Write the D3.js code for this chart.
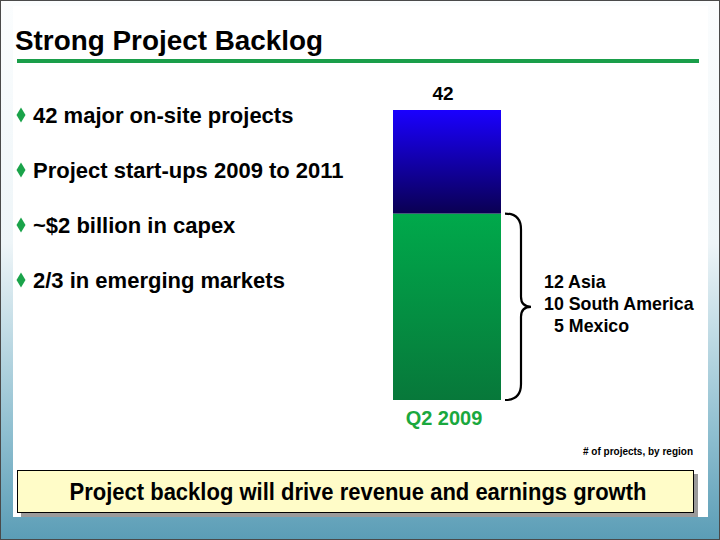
<!DOCTYPE html>
<html>
<head>
<meta charset="utf-8">
<script src="https://cdn.jsdelivr.net/npm/d3@7"></script>
<style>
  body { margin: 0; background: #fff; }
  svg { display: block; font-family: "Liberation Sans", Arial, sans-serif; }
</style>
</head>
<body>
<svg id="chart" width="720" height="540"></svg>
<script>
// data
const quarters = ['Q2 2009'];
const regionNames = ['Asia', 'South America', 'Mexico'];
const regionCounts = [12, 10, 5];
const otherCounts = [15];
const bullets = [
  '42 major on-site projects',
  'Project start-ups 2009 to 2011',
  '~$2 billion in capex',
  '2/3 in emerging markets'
];

const svg = d3.select('#chart');
const W = 720, H = 540;

const defs = svg.append('defs');
const bg = defs.append('linearGradient').attr('id', 'bg')
  .attr('x1', 0).attr('y1', 0).attr('x2', 0).attr('y2', 1);
bg.append('stop').attr('offset', '0%').attr('stop-color', '#fbfdfe');
bg.append('stop').attr('offset', '45%').attr('stop-color', '#eef5f8');
bg.append('stop').attr('offset', '80%').attr('stop-color', '#8fbfd0');
bg.append('stop').attr('offset', '100%').attr('stop-color', '#5b9db6');

const blueGrad = defs.append('linearGradient').attr('id', 'blueGrad')
  .attr('x1', 0).attr('y1', 0).attr('x2', 0).attr('y2', 1);
blueGrad.append('stop').attr('offset', '0%').attr('stop-color', '#1a00ff');
blueGrad.append('stop').attr('offset', '100%').attr('stop-color', '#0a0052');

const greenGrad = defs.append('linearGradient').attr('id', 'greenGrad')
  .attr('x1', 0).attr('y1', 0).attr('x2', 0).attr('y2', 1);
greenGrad.append('stop').attr('offset', '0%').attr('stop-color', '#00a94b');
greenGrad.append('stop').attr('offset', '100%').attr('stop-color', '#07783a');

// slide background and panel
svg.append('rect').attr('width', W).attr('height', H).attr('fill', 'url(#bg)');
svg.append('rect').attr('x', 13).attr('y', 6).attr('width', 695).attr('height', 511)
  .attr('fill', '#ffffff');
svg.append('rect').attr('x', 0.5).attr('y', 0.5).attr('width', W - 1).attr('height', H - 1)
  .attr('fill', 'none').attr('stroke', '#4a4a4a').attr('stroke-width', 1);

// title
svg.append('text').attr('x', 15).attr('y', 50)
  .attr('font-size', 27).attr('font-weight', 'bold').attr('fill', '#000')
  .attr('textLength', 308).attr('lengthAdjust', 'spacingAndGlyphs')
  .text('Strong Project Backlog');
svg.append('line').attr('x1', 17).attr('x2', 699).attr('y1', 61).attr('y2', 61)
  .attr('stroke', '#1a9e4a').attr('stroke-width', 4);

// bullets
const bulletY = d3.scalePoint().domain(d3.range(bullets.length)).range([115, 280]);
const bl = svg.append('g').selectAll('g').data(bullets).join('g')
  .attr('transform', (d, i) => `translate(0,${bulletY(i)})`);
bl.append('path').attr('d', 'M21,-7.5 L25.5,0 L21,7.5 L16.5,0 Z').attr('fill', '#1aa34a');
bl.append('text').attr('x', 33).attr('dy', '0.36em')
  .attr('font-size', 22).attr('font-weight', 'bold').attr('fill', '#000')
  .text(d => d);

// stacked bar
const stackData = quarters.map((q, i) => ({
  quarter: q,
  regions: d3.sum(regionCounts),
  other: otherCounts[i]
}));
const series = d3.stack().keys(['regions', 'other'])(stackData);
const total = d3.max(series[series.length - 1], d => d[1]);

const x = d3.scaleBand().domain(quarters).range([393, 501]).padding(0);
const y = d3.scaleLinear().domain([0, total]).range([400, 110]);
const fills = { regions: 'url(#greenGrad)', other: 'url(#blueGrad)' };

svg.append('g').selectAll('g').data(series).join('g')
  .attr('fill', d => fills[d.key])
  .selectAll('rect').data(d => d).join('rect')
  .attr('x', d => x(d.data.quarter))
  .attr('width', x.bandwidth())
  .attr('y', d => y(d[1]))
  .attr('height', d => y(d[0]) - y(d[1]));

// total label
svg.append('g').selectAll('text').data(stackData).join('text')
  .attr('x', d => x(d.quarter) + x.bandwidth() / 2 - 4)
  .attr('y', d => y(d.regions + d.other) - 17)
  .attr('text-anchor', 'middle').attr('dy', '0.36em')
  .attr('font-size', 19).attr('font-weight', 'bold').attr('fill', '#000')
  .text(d => d.regions + d.other);

// category label
svg.append('g').selectAll('text').data(quarters).join('text')
  .attr('x', d => x(d) + x.bandwidth() / 2 - 3)
  .attr('y', 418).attr('dy', '0.36em')
  .attr('text-anchor', 'middle')
  .attr('font-size', 20).attr('font-weight', 'bold').attr('fill', '#1aa83e')
  .text(d => d);

// brace around the regional segment
const seg = series[0][0];
const bTop = y(seg[1]), bBot = y(seg[0]);
const bMid = (bTop + bBot) / 2;
const bx0 = x.range()[1] + 4, bx1 = bx0 + 16, tip = bx1 + 10;
const brace = d3.path();
brace.moveTo(bx0, bTop);
brace.quadraticCurveTo(bx1, bTop, bx1, bTop + 16);
brace.lineTo(bx1, bMid - 10);
brace.quadraticCurveTo(bx1, bMid, tip, bMid);
brace.quadraticCurveTo(bx1, bMid, bx1, bMid + 10);
brace.lineTo(bx1, bBot - 16);
brace.quadraticCurveTo(bx1, bBot, bx0, bBot);
svg.append('path').attr('d', brace.toString())
  .attr('fill', 'none').attr('stroke', '#000').attr('stroke-width', 2.2);

// region breakdown
const regionY = d3.scalePoint().domain(regionNames).range([282, 326]);
svg.append('g').selectAll('text').data(regionNames).join('text')
  .attr('x', (d, i) => regionCounts[i] < 10 ? 554 : 544)
  .attr('y', d => regionY(d)).attr('dy', '0.36em')
  .attr('font-size', 17.8).attr('font-weight', 'bold').attr('fill', '#000')
  .text((d, i) => regionCounts[i] + ' ' + d);

// footnote
svg.append('text').attr('x', 693).attr('y', 451).attr('dy', '0.36em')
  .attr('text-anchor', 'end')
  .attr('font-size', 10).attr('font-weight', 'bold').attr('fill', '#000')
  .text('# of projects, by region');

// takeaway box
svg.append('rect').attr('x', 21).attr('y', 474).attr('width', 677).attr('height', 43)
  .attr('fill', '#9a9a9a');
svg.append('rect').attr('x', 17.5).attr('y', 470.5).attr('width', 676).attr('height', 42)
  .attr('fill', '#fffcc8').attr('stroke', '#000').attr('stroke-width', 1);
svg.append('text').attr('x', 358).attr('y', 492).attr('dy', '0.36em')
  .attr('text-anchor', 'middle')
  .attr('font-size', 23).attr('font-weight', 'bold').attr('fill', '#000')
  .attr('textLength', 577).attr('lengthAdjust', 'spacingAndGlyphs')
  .text('Project backlog will drive revenue and earnings growth');
</script>
</body>
</html>
